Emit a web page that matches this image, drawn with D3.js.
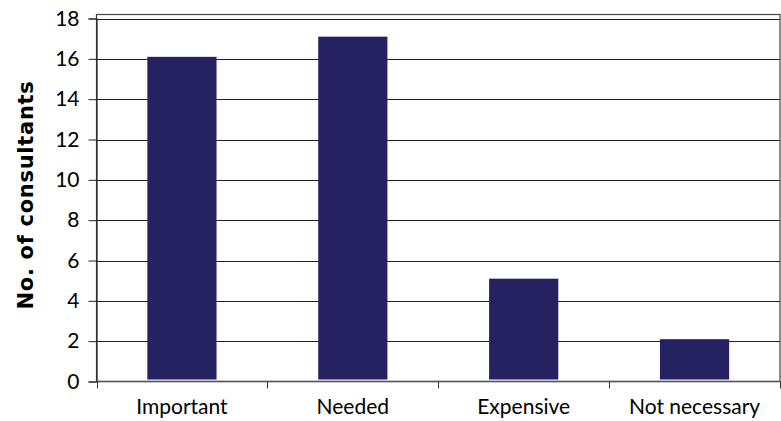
<!DOCTYPE html>
<html><head><meta charset="utf-8">
<script src="https://cdn.jsdelivr.net/npm/d3@7"></script>
<style>body{margin:0;background:#fff}svg{display:block}</style>
</head><body>
<svg id="c" width="781" height="421"></svg>
<script>
const categories = ["Important", "Needed", "Expensive", "Not necessary"];
const values = [16, 17, 5, 2];
const yTicks = [0, 2, 4, 6, 8, 10, 12, 14, 16, 18];
const yTitle = "No. of consultants";

const svg = d3.select("#c");
const L = 96.5, R = 780, T = 14.5, B = 381.5;
const x = d3.scaleBand().domain(categories).range([L, R]).padding(0);
const y = d3.scaleLinear().domain([0, 18]).range([B, 18.5]);
const font = "Lato, 'Open Sans', sans-serif";

// plot border
svg.append("rect").attr("x", L).attr("y", T).attr("width", R - L).attr("height", B - T)
  .attr("fill", "none").attr("stroke", "#444").attr("stroke-width", 1.2);

// gridlines
svg.append("g").selectAll("line").data(yTicks.filter(d => d > 0)).join("line")
  .attr("x1", L).attr("x2", R)
  .attr("y1", d => Math.round(y(d)) + 0.5).attr("y2", d => Math.round(y(d)) + 0.5)
  .attr("stroke", "#222").attr("stroke-width", 1);

// bars
const bw = x.bandwidth() * 0.405;
svg.append("g").attr("transform", "translate(0,-2)").selectAll("rect").data(values).join("rect")
  .attr("x", (d, i) => x(categories[i]) + x.bandwidth() / 2 - bw / 2)
  .attr("width", bw)
  .attr("y", d => y(d))
  .attr("height", d => B - y(d))
  .attr("fill", "#262262");

// y axis
const ya = svg.append("g").attr("transform", `translate(${L},0)`)
  .call(d3.axisLeft(y).tickValues(yTicks).tickSize(8).tickPadding(9).tickFormat(d3.format("d")));
ya.select(".domain").attr("stroke", "#222").attr("stroke-width", 1.2);
ya.selectAll(".tick line").attr("stroke", "#222");
ya.selectAll("text").attr("font-family", font).attr("font-size", 21).attr("fill", "#000");

// x axis
const xa = svg.append("g").attr("transform", `translate(0,${B})`);
xa.append("line").attr("x1", L).attr("x2", R).attr("y1", 0).attr("y2", 0).attr("stroke", "#555").attr("stroke-width", 1.5);
const bounds = categories.map(c => x(c)).concat([R]);
xa.selectAll(".tk").data(bounds).join("line").attr("class", "tk")
  .attr("x1", d => Math.round(d) + 0.5).attr("x2", d => Math.round(d) + 0.5)
  .attr("y1", 0).attr("y2", 7).attr("stroke", "#333");
xa.selectAll("text").data(categories).join("text")
  .attr("x", d => x(d) + x.bandwidth() / 2).attr("y", 32)
  .attr("text-anchor", "middle").attr("font-family", font).attr("font-size", 21).attr("fill", "#000")
  .text(d => d);

// y title
svg.append("text").attr("transform", `translate(33,195) rotate(-90)`)
  .attr("text-anchor", "middle").attr("font-family", "'DejaVu Sans', Verdana, sans-serif")
  .attr("font-weight", "bold").attr("font-size", 21).attr("letter-spacing", 0.7)
  .attr("fill", "#000").text(yTitle);
</script>
</body></html>
